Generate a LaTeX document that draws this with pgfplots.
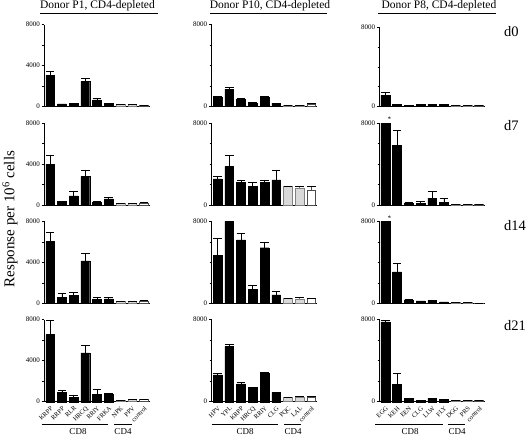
\documentclass[border=0pt]{standalone}
\usepackage{pgfplots}
\pgfplotsset{compat=1.18}
\usepackage{fontspec}
\setmainfont{Liberation Serif}
\definecolor{lgray}{gray}{0.85}
\pgfplotsset{
  panel/.style={
    scale only axis, width=105.5pt, height=82pt,
    anchor=south west,
    xmin=-0.5, xmax=8.5, ymin=0, ymax=8000,
    axis x line=bottom, axis y line=left,
    axis line style={-, line width=0.6pt},
    clip=false,
    xtick=\empty,
    tick align=outside, major tick length=2.8pt, minor tick length=2pt,
    minor ytick={2000,4000,6000},
    /pgf/number format/assume math mode=true,
    /pgf/number format/1000 sep={},
    yticklabel style={font=\fontsize{7}{7}\selectfont, inner sep=1.5pt},
    ytick={0,8000},
    every tick/.style={black, line width=0.5pt},
    ybar, bar width=8.8pt, bar shift=0pt,
    error bars/y dir=plus, error bars/y explicit,
    error bars/error mark options={rotate=90, mark size=4.3pt, line width=0.7pt},
    error bars/error bar style={line width=0.7pt},
  },
  col1/.style={ytick={0,4000,8000}, minor ytick={2000,6000}},
  bk/.style={fill=black, draw=black, line width=0.4pt},
  gr/.style={fill=lgray, draw=gray, line width=0.6pt},
  wh/.style={fill=white, draw=black!70, line width=0.6pt},
  bottomrow/.style={
    xtick={0,...,8},
    major x tick style={draw=none},
    xticklabel style={rotate=45, anchor=north east, font=\fontsize{6.5}{6.5}\selectfont, inner sep=0.8pt},
  },
}
\begin{document}
\begin{tikzpicture}
\path[use as bounding box] (0pt,0pt) rectangle (528pt,437pt);

% ================= Column 1: Donor P1 =================
\begin{axis}[panel, col1, at={(44.3pt,330.5pt)}]
\addplot[bk] coordinates {(0,3050) +- (0,350) (1,250) +- (0,0) (2,280) +- (0,0) (3,2450) +- (0,250) (4,650) +- (0,100) (5,330) +- (0,0)};
\addplot[gr] coordinates {(6,180) +- (0,0) (7,180) +- (0,0)};
\addplot[wh] coordinates {(8,100) +- (0,0)};
\end{axis}
\begin{axis}[panel, col1, at={(44.3pt,232pt)}]
\addplot[bk] coordinates {(0,4000) +- (0,870) (1,330) +- (0,60) (2,880) +- (0,500) (3,2770) +- (0,650) (4,280) +- (0,80) (5,590) +- (0,200)};
\addplot[gr] coordinates {(6,170) +- (0,0) (7,170) +- (0,0)};
\addplot[wh] coordinates {(8,200) +- (0,30)};
\end{axis}
\begin{axis}[panel, col1, at={(44.3pt,133.7pt)}]
\addplot[bk] coordinates {(0,6050) +- (0,900) (1,600) +- (0,380) (2,750) +- (0,300) (3,4150) +- (0,700) (4,400) +- (0,180) (5,420) +- (0,170)};
\addplot[gr] coordinates {(6,200) +- (0,0) (7,230) +- (0,0)};
\addplot[wh] coordinates {(8,230) +- (0,30)};
\end{axis}
\begin{axis}[panel, col1, bottomrow, at={(44.3pt,35.3pt)},
  xticklabels={KRPP,RRPP,RLR,HRCQ,RRIY,FRKA,NPK,PPV,control}]
\addplot[bk] coordinates {(0,6550) +- (0,1350) (1,920) +- (0,200) (2,400) +- (0,230) (3,4760) +- (0,750) (4,730) +- (0,450) (5,730) +- (0,120)};
\addplot[gr] coordinates {(6,130) +- (0,0) (7,230) +- (0,0)};
\addplot[wh] coordinates {(8,200) +- (0,0)};
\end{axis}

% ================= Column 2: Donor P10 =================
\begin{axis}[panel, at={(211.7pt,330.5pt)}]
\addplot[bk] coordinates {(0,880) +- (0,130) (1,1690) +- (0,130) (2,720) +- (0,100) (3,330) +- (0,70) (4,880) +- (0,100) (5,330) +- (0,0)};
\addplot[gr] coordinates {(6,130) +- (0,0) (7,130) +- (0,0)};
\addplot[wh] coordinates {(8,230) +- (0,30)};
\end{axis}
\begin{axis}[panel, at={(211.7pt,232pt)}]
\addplot[bk] coordinates {(0,2550) +- (0,260) (1,3750) +- (0,1100) (2,2190) +- (0,230) (3,1830) +- (0,360) (4,2190) +- (0,230) (5,2450) +- (0,950)};
\addplot[gr] coordinates {(6,1800) +- (0,60) (7,1670) +- (0,160)};
\addplot[wh] coordinates {(8,1440) +- (0,360)};
\end{axis}
\begin{axis}[panel, at={(211.7pt,133.7pt)}]
\addplot[bk] coordinates {(0,4700) +- (0,1600) (1,8000) +- (0,0) (2,6200) +- (0,620) (3,1370) +- (0,360) (4,5420) +- (0,550) (5,810) +- (0,330)};
\addplot[gr] coordinates {(6,450) +- (0,70) (7,390) +- (0,160)};
\addplot[wh] coordinates {(8,450) +- (0,70)};
\end{axis}
\begin{axis}[panel, bottomrow, at={(211.7pt,35.3pt)},
  xticklabels={HPV,YPL,KRPP,HRCQ,RRIY,CLG,PQC,LAL,control}]
\addplot[bk] coordinates {(0,2610) +- (0,190) (1,5380) +- (0,230) (2,1730) +- (0,130) (3,1410) +- (0,0) (4,2770) +- (0,130) (5,880) +- (0,0)};
\addplot[gr] coordinates {(6,430) +- (0,40) (7,460) +- (0,40)};
\addplot[wh] coordinates {(8,460) +- (0,30)};
\end{axis}

% ================= Column 3: Donor P8 =================
\begin{axis}[panel, height=78.3pt, at={(379.5pt,331pt)}]
\addplot[bk] coordinates {(0,1120) +- (0,280) (1,170) +- (0,0) (2,100) +- (0,0) (3,200) +- (0,0) (4,150) +- (0,0) (5,170) +- (0,0)};
\addplot[gr] coordinates {(6,50) +- (0,0) (7,50) +- (0,0)};
\addplot[wh] coordinates {(8,50) +- (0,0)};
\end{axis}
\begin{axis}[panel, at={(379.5pt,232pt)}]
\addplot[bk] coordinates {(0,8000) +- (0,0) (1,5820) +- (0,1460) (2,130) +- (0,160) (3,195) +- (0,165) (4,680) +- (0,620) (5,290) +- (0,360)};
\addplot[gr] coordinates {(6,65) +- (0,0) (7,65) +- (0,0)};
\addplot[wh] coordinates {(8,100) +- (0,0)};
\node[anchor=south, font=\fontsize{7}{7}\selectfont, inner sep=1pt] at (axis cs:0.35,8000) {*};
\end{axis}
\begin{axis}[panel, at={(379.5pt,133.7pt)}]
\addplot[bk] coordinates {(0,8000) +- (0,0) (1,3070) +- (0,850) (2,330) +- (0,100) (3,230) +- (0,0) (4,260) +- (0,0) (5,130) +- (0,0)};
\addplot[gr] coordinates {(6,100) +- (0,0) (7,100) +- (0,0)};
\addplot[wh] coordinates {(8,30) +- (0,0)};
\node[anchor=south, font=\fontsize{7}{7}\selectfont, inner sep=1pt] at (axis cs:0.35,8000) {*};
\end{axis}
\begin{axis}[panel, bottomrow, at={(379.5pt,35.3pt)},
  xticklabels={EGG,KEH,EEN,CLG,LLW,FLY,DGG,PRS,control}]
\addplot[bk] coordinates {(0,7800) +- (0,150) (1,1700) +- (0,1040) (2,330) +- (0,0) (3,130) +- (0,0) (4,330) +- (0,0) (5,200) +- (0,0)};
\addplot[gr] coordinates {(6,100) +- (0,0) (7,160) +- (0,0)};
\addplot[wh] coordinates {(8,100) +- (0,0)};
\end{axis}

% ================= Titles and labels =================
\begin{scope}[every node/.style={font=\fontsize{11.5}{12}\selectfont, inner sep=0pt}]
\node at (97.5pt,431pt) {Donor P1, CD4-depleted};
\node at (270pt,431pt) {Donor P10, CD4-depleted};
\node at (439pt,431pt) {Donor P8, CD4-depleted};
\end{scope}
\draw[line width=0.6pt] (40pt,423.5pt) -- (158pt,423.5pt);
\draw[line width=0.6pt] (210pt,423.5pt) -- (327pt,423.5pt);
\draw[line width=0.6pt] (378pt,423.5pt) -- (496pt,423.5pt);

\begin{scope}[every node/.style={font=\fontsize{14.5}{14.5}\selectfont, anchor=west, inner sep=0pt}]
\node at (504pt,405pt) {d0};
\node at (504pt,311pt) {d7};
\node at (504pt,211pt) {d14};
\node at (504pt,111pt) {d21};
\end{scope}

\node[rotate=90, font=\fontsize{15}{15}\selectfont, inner sep=0pt] at (10pt,218pt) {Response per 10\textsuperscript{6} cells};

% bottom group labels
\draw[line width=0.6pt] (41.7pt,13pt) -- (107.7pt,13pt);
\draw[line width=0.6pt] (114pt,13pt) -- (132pt,13pt);
\draw[line width=0.6pt] (211.7pt,13pt) -- (277.7pt,13pt);
\draw[line width=0.6pt] (284pt,13pt) -- (301pt,13pt);
\draw[line width=0.6pt] (375pt,13pt) -- (443pt,13pt);
\draw[line width=0.6pt] (448pt,13pt) -- (465pt,13pt);
\begin{scope}[every node/.style={font=\fontsize{9}{9}\selectfont, inner sep=0pt}]
\node at (78pt,5.5pt) {CD8};
\node at (123pt,5.5pt) {CD4};
\node at (245pt,5.5pt) {CD8};
\node at (293pt,5.5pt) {CD4};
\node at (410pt,5.5pt) {CD8};
\node at (457pt,5.5pt) {CD4};
\end{scope}
\end{tikzpicture}
\end{document}
